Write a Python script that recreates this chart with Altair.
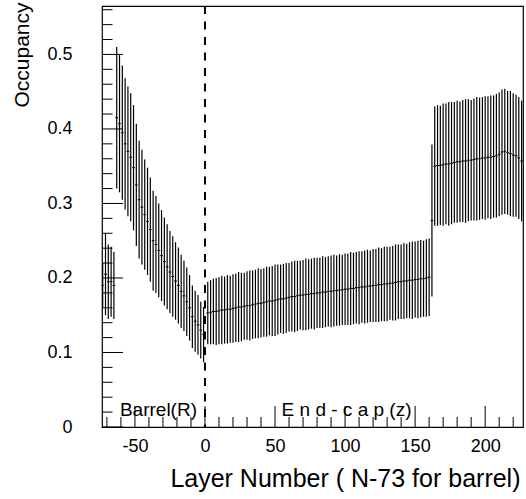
import altair as alt
import pandas as pd

# ---------------- data ----------------
# Barrel layers (plotted at N-73), every second layer
barrel_x = list(range(-73, 0, 2))
barrel_c = [0.190, 0.205, 0.195, 0.195, 0.190,
            0.415, 0.407, 0.395, 0.380, 0.370, 0.362, 0.348, 0.325,
            0.305, 0.295, 0.285, 0.276, 0.265, 0.250, 0.245, 0.237,
            0.230, 0.222, 0.215, 0.208, 0.202, 0.196, 0.190, 0.182,
            0.176, 0.168, 0.160, 0.148, 0.142, 0.137, 0.130, 0.124]
barrel_e = [0.030, 0.055, 0.050, 0.047, 0.045,
            0.095, 0.092, 0.090, 0.088, 0.087, 0.086, 0.084, 0.082,
            0.079, 0.077, 0.074, 0.072, 0.070, 0.067, 0.065, 0.063,
            0.061, 0.059, 0.057, 0.055, 0.054, 0.052, 0.051, 0.049,
            0.047, 0.046, 0.044, 0.042, 0.041, 0.040, 0.038, 0.037]

# End-cap layers 2..160
endcap_x = list(range(2, 161, 2))
endcap_c = [0.153, 0.154, 0.155, 0.155, 0.156, 0.157, 0.157, 0.158, 0.158, 0.159,
            0.160, 0.161, 0.161, 0.162, 0.163, 0.163, 0.164, 0.165, 0.166, 0.166,
            0.167, 0.168, 0.169, 0.169, 0.170, 0.171, 0.172, 0.172, 0.173, 0.174,
            0.175, 0.175, 0.176, 0.177, 0.177, 0.178, 0.178, 0.179, 0.179, 0.180,
            0.180, 0.181, 0.181, 0.182, 0.182, 0.183, 0.183, 0.184, 0.184, 0.185,
            0.185, 0.186, 0.186, 0.187, 0.187, 0.188, 0.188, 0.189, 0.189, 0.190,
            0.190, 0.191, 0.191, 0.192, 0.192, 0.193, 0.193, 0.194, 0.195, 0.195,
            0.196, 0.196, 0.197, 0.197, 0.198, 0.198, 0.199, 0.199, 0.200, 0.201]
endcap_e = [0.042, 0.043, 0.044, 0.045, 0.045, 0.046, 0.045, 0.046, 0.045, 0.046,
            0.046, 0.047, 0.046, 0.045, 0.046, 0.047, 0.046, 0.046, 0.047, 0.046,
            0.046, 0.047, 0.046, 0.047, 0.048, 0.047, 0.046, 0.047, 0.047, 0.046,
            0.047, 0.048, 0.047, 0.046, 0.047, 0.048, 0.047, 0.047, 0.048, 0.047,
            0.047, 0.048, 0.047, 0.047, 0.048, 0.048, 0.047, 0.048, 0.047, 0.048,
            0.048, 0.049, 0.048, 0.048, 0.049, 0.048, 0.049, 0.049, 0.048, 0.049,
            0.049, 0.050, 0.049, 0.050, 0.050, 0.049, 0.050, 0.051, 0.050, 0.050,
            0.051, 0.050, 0.051, 0.052, 0.051, 0.052, 0.052, 0.051, 0.052, 0.052]

# Forward end-cap layers 162..226
fwd_x = list(range(162, 227, 2))
fwd_c = [0.277,
         0.350, 0.351, 0.351, 0.352, 0.353, 0.353, 0.354, 0.355, 0.356, 0.356,
         0.357, 0.357, 0.358, 0.358, 0.359, 0.360, 0.360, 0.361, 0.361, 0.362,
         0.362, 0.363, 0.364, 0.366, 0.369, 0.370, 0.368, 0.367, 0.365, 0.364,
         0.361, 0.357]
fwd_e = [0.102,
         0.080, 0.081, 0.080, 0.082, 0.081, 0.083, 0.082, 0.081, 0.082, 0.081,
         0.082, 0.083, 0.082, 0.081, 0.082, 0.083, 0.082, 0.082, 0.083, 0.082,
         0.083, 0.082, 0.083, 0.083, 0.084, 0.084, 0.083, 0.084, 0.083, 0.082,
         0.082, 0.081]

x_major = [-50, 0, 50, 100, 150, 200]
x_minor = [-70, -60, -40, -30, -20, -10, 10, 20, 30, 40, 60, 70, 80, 90,
           110, 120, 130, 140, 160, 170, 180, 190, 210, 220]
y_major = [0.0, 0.1, 0.2, 0.3, 0.4, 0.5]
y_minor = [0.02, 0.04, 0.06, 0.08, 0.12, 0.14, 0.16, 0.18, 0.22, 0.24, 0.26,
           0.28, 0.32, 0.34, 0.36, 0.38, 0.42, 0.44, 0.46, 0.48, 0.52, 0.54, 0.56]

# ---------------- build ----------------
df = pd.DataFrame({
    "x": barrel_x + endcap_x + fwd_x,
    "c": barrel_c + endcap_c + fwd_c,
    "e": barrel_e + endcap_e + fwd_e,
})

W, H = 421, 421
FONT = "Liberation Sans"

xscale = alt.Scale(domain=[-73.5, 227], nice=False, zero=False)
yscale = alt.Scale(domain=[0, 0.565], nice=False, zero=False)

xaxis = alt.Axis(values=x_major, labelExpr="'' + datum.value", tickSize=0, ticks=False,
                 domain=False, grid=False, labelFontSize=18, labelPadding=10,
                 labelFont=FONT, labelColor="black", labelFlush=False,
                 title="Layer Number ( N-73 for barrel)", titleFont=FONT,
                 titleFontSize=25, titleFontWeight="normal", titleColor="black",
                 titleX=418, titleY=59, titleAlign="right",
                 titleBaseline="alphabetic", titleAngle=0)
yaxis = alt.Axis(values=y_major,
                 labelExpr="datum.value == 0 ? '0' : format(datum.value, '.1f')",
                 tickSize=0, ticks=False, domain=False, grid=False,
                 labelFontSize=18, labelPadding=30, labelFont=FONT,
                 labelColor="black", labelFlush=False,
                 title="Occupancy", titleFont=FONT, titleFontSize=21,
                 titleFontWeight="normal", titleColor="black",
                 titleX=-73.5, titleY=-4, titleAngle=-90, titleAlign="right",
                 titleBaseline="alphabetic")


def X(field):
    return alt.X(field, type="quantitative", scale=xscale, axis=xaxis)


def Y(field):
    return alt.Y(field, type="quantitative", scale=yscale, axis=yaxis)


base = alt.Chart(df).transform_calculate(
    lo="datum.c - datum.e", hi="datum.c + datum.e",
    xl="datum.x - 1", xr="datum.x + 1")

bars = base.mark_rule(color="black", strokeWidth=1.2).encode(
    x=X("x"), y=Y("lo"), y2="hi:Q")

centers = base.mark_rule(color="black", strokeWidth=1).encode(
    x=X("xl"), x2="xr:Q", y=Y("c"))

dashed = alt.Chart(pd.DataFrame({"v": [0]})).mark_rule(
    color="black", strokeWidth=2, strokeDash=[8, 7.5]).encode(
    x=X("v"), y=alt.value(0), y2=alt.value(H))

xmaj = alt.Chart(pd.DataFrame({"v": x_major})).mark_rule(
    color="black", strokeWidth=1).encode(
    x=X("v"), y=alt.value(H), y2=alt.value(H - 21))
xmin = alt.Chart(pd.DataFrame({"v": x_minor})).mark_rule(
    color="black", strokeWidth=1).encode(
    x=X("v"), y=alt.value(H), y2=alt.value(H - 10))
ymaj = alt.Chart(pd.DataFrame({"v": y_major})).mark_rule(
    color="black", strokeWidth=1).encode(
    y=Y("v"), x=alt.value(0), x2=alt.value(21))
ymin = alt.Chart(pd.DataFrame({"v": y_minor})).mark_rule(
    color="black", strokeWidth=1).encode(
    y=Y("v"), x=alt.value(0), x2=alt.value(10.5))

txt_barrel = alt.Chart(pd.DataFrame({"t": ["Barrel(R)"]})).mark_text(
    align="left", baseline="alphabetic", fontSize=19, font=FONT, color="black").encode(
    x=alt.datum(-60.7), y=alt.datum(0.015), text="t:N")
txt_endcap = alt.Chart(pd.DataFrame({"t": ["E n d - c a p (z)"]})).mark_text(
    align="left", baseline="alphabetic", fontSize=19, font=FONT, color="black").encode(
    x=alt.datum(54.7), y=alt.datum(0.015), text="t:N")

chart = alt.layer(
    bars, centers, dashed, xmaj, xmin, ymaj, ymin, txt_barrel, txt_endcap
).properties(
    width=W, height=H,
    autosize=alt.AutoSizeParams(type="none"),
    padding={"left": 102, "top": 6, "right": 3, "bottom": 72},
    background="white",
).configure_view(
    stroke="black", strokeWidth=1.2
)

chart.save("out.html", embed_options={"renderer": "svg", "actions": False})
